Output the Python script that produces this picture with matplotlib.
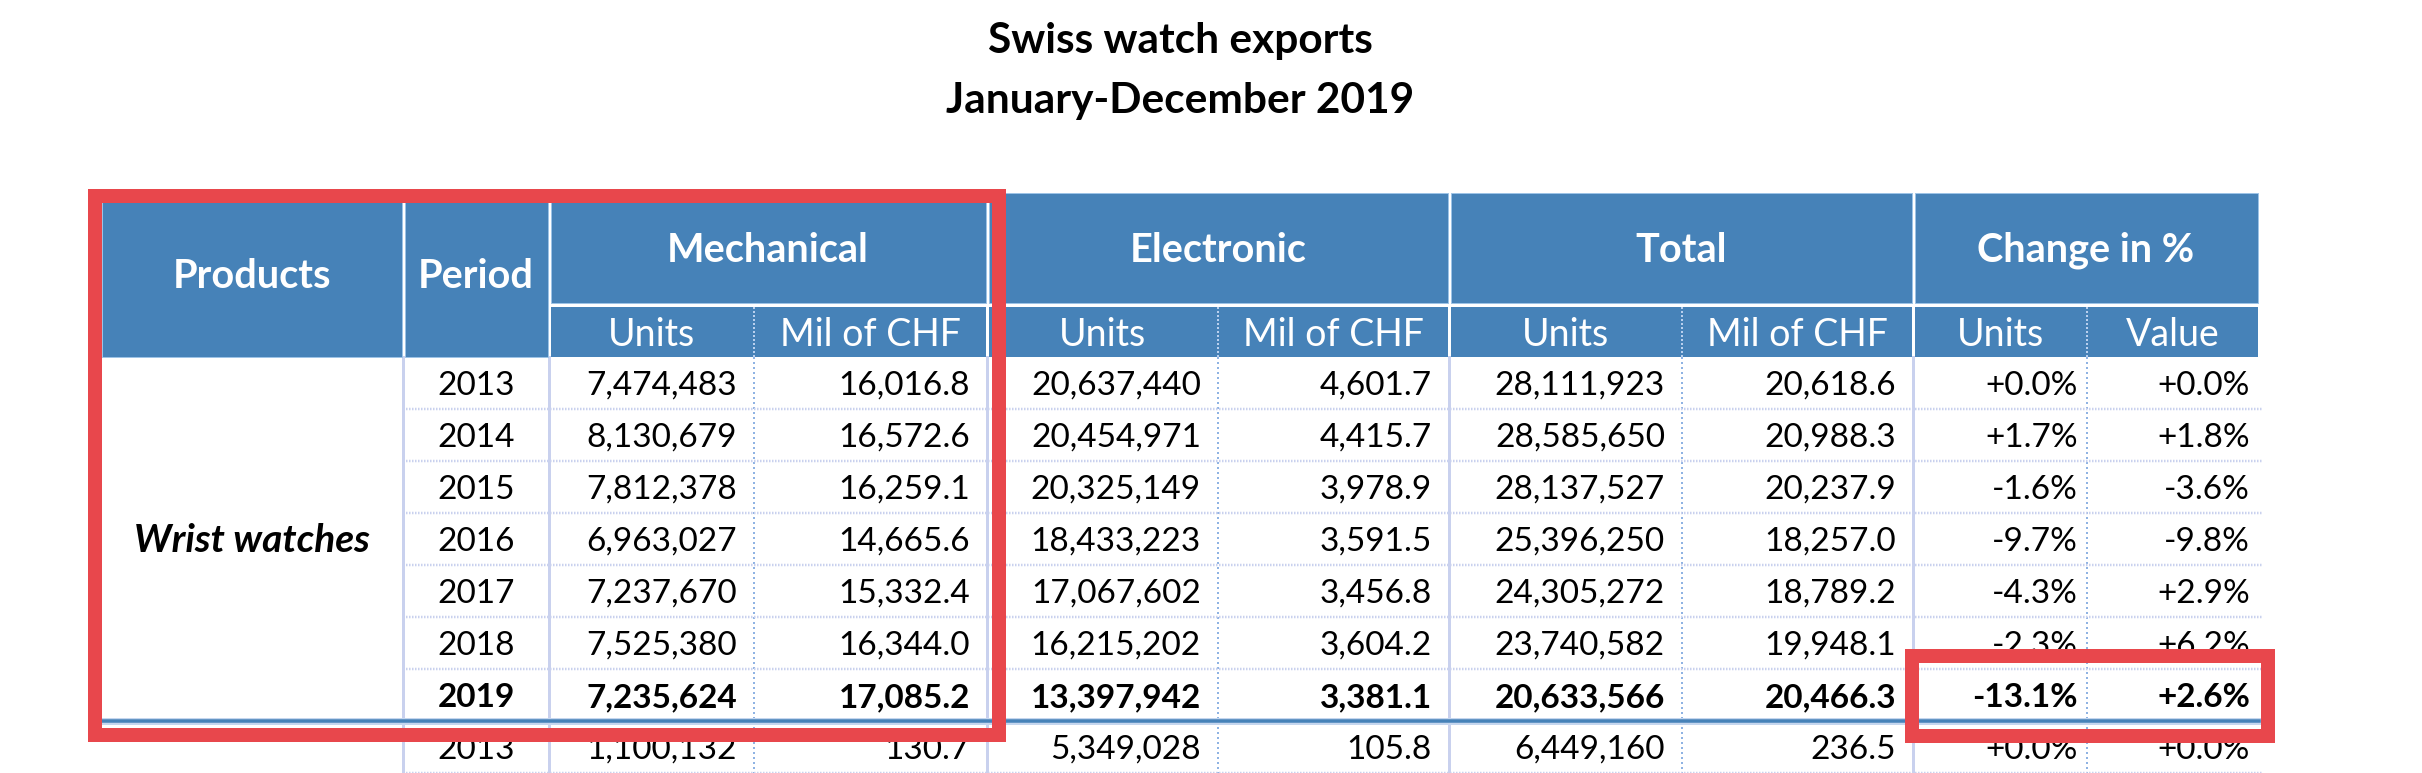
import matplotlib
matplotlib.use("Agg")
import matplotlib.pyplot as plt
from matplotlib.patches import Rectangle

# ---------------- data ----------------
title_lines = ["Swiss watch exports", "January-December 2019"]
group_labels = ["Mechanical", "Electronic", "Total", "Change in %"]
sub_labels = ["Units", "Mil of CHF", "Units", "Mil of CHF", "Units", "Mil of CHF", "Units", "Value"]
product_label = "Wrist watches"

years = [2013, 2014, 2015, 2016, 2017, 2018, 2019]
mech_units = [7474483, 8130679, 7812378, 6963027, 7237670, 7525380, 7235624]
mech_chf = [16016.8, 16572.6, 16259.1, 14665.6, 15332.4, 16344.0, 17085.2]
elec_units = [20637440, 20454971, 20325149, 18433223, 17067602, 16215202, 13397942]
elec_chf = [4601.7, 4415.7, 3978.9, 3591.5, 3456.8, 3604.2, 3381.1]
tot_units = [28111923, 28585650, 28137527, 25396250, 24305272, 23740582, 20633566]
tot_chf = [20618.6, 20988.3, 20237.9, 18257.0, 18789.2, 19948.1, 20466.3]
chg_units = [0.0, 1.7, -1.6, -9.7, -4.3, -2.3, -13.1]
chg_value = [0.0, 1.8, -3.6, -9.8, 2.9, 6.2, 2.6]

# next (partially visible) block
next_row = [2013, 1100132, 130.7, 5349028, 105.8, 6449160, 236.5, 0.0, 0.0]

# ---------------- layout (pixels) ----------------
W, H = 2422, 773
col_edges = [100, 403, 549, 754, 987, 1218, 1449, 1682, 1913, 2087, 2259]
group_edges = [549, 987, 1449, 1913, 2259]
hdr_top, hdr_mid, sub_top, hdr_bot = 193, 303, 307, 357
row_h = 52
blue = "#4682B8"
red = "#E8474C"
lav = "#C9D1EE"
dotblue = "#8FB3E3"
FONT = ["Lato", "DejaVu Sans"]
px = 72 / 100.0  # pixel -> point

fig = plt.figure(figsize=(W / 100, H / 100), dpi=100)
ax = fig.add_axes([0, 0, 1, 1])
ax.set_xlim(0, W)
ax.set_ylim(H, 0)
ax.axis("off")

# title
ax.text(1180, 53, title_lines[0], ha="center", va="baseline", fontsize=30.5,
        fontweight="bold", family=FONT, color="black")
ax.text(1180, 113, title_lines[1], ha="center", va="baseline", fontsize=30.5,
        fontweight="bold", family=FONT, color="black")

# header cells
def hcell(x0, x1, y0, y1):
    ax.add_patch(Rectangle((x0 + 1.5, y0), x1 - x0 - 3, y1 - y0, facecolor=blue,
                           edgecolor="#9DC3E6", linewidth=1 * px, zorder=2))

hcell(col_edges[0], col_edges[1], hdr_top, hdr_bot)
hcell(col_edges[1], col_edges[2], hdr_top, hdr_bot)
for i in range(4):
    hcell(group_edges[i], group_edges[i + 1], hdr_top, hdr_mid)
for i in range(8):
    x0, x1 = col_edges[2 + i], col_edges[3 + i]
    left = 1.5 if i % 2 == 0 else 0
    right = 1.5 if i % 2 == 1 else 0
    ax.add_patch(Rectangle((x0 + left, sub_top), x1 - x0 - left - right,
                           hdr_bot - sub_top, facecolor=blue, edgecolor="none", zorder=2))
# subheader dotted separators
for i in range(4):
    xs = col_edges[3 + 2 * i]
    ax.plot([xs, xs], [sub_top, hdr_bot], color="#B9D0EE", lw=2 * px,
            linestyle=(0, (1, 1)), zorder=3)

hfs_b = 28.5
hfs = 27
hcy = lambda y0, y1: (y0 + y1) / 2 + 13.5
ax.text((col_edges[0] + col_edges[1]) / 2, hcy(hdr_top, hdr_bot), "Products", ha="center",
        va="baseline", fontsize=hfs_b, fontweight="bold", color="white", family=FONT, zorder=4)
ax.text((col_edges[1] + col_edges[2]) / 2, hcy(hdr_top, hdr_bot), "Period", ha="center",
        va="baseline", fontsize=hfs_b, fontweight="bold", color="white", family=FONT, zorder=4)
for i, g in enumerate(group_labels):
    ax.text((group_edges[i] + group_edges[i + 1]) / 2, hcy(hdr_top, hdr_mid), g, ha="center",
            va="baseline", fontsize=hfs_b, fontweight="bold", color="white", family=FONT, zorder=4)
for i, s in enumerate(sub_labels):
    ax.text((col_edges[2 + i] + col_edges[3 + i]) / 2, hcy(sub_top, hdr_bot), s, ha="center",
            va="baseline", fontsize=hfs, color="white", family=FONT, zorder=4)

# data grid
n_rows = len(years) + 1
data_bot = hdr_bot + row_h * n_rows
for xs in [col_edges[1], col_edges[2], col_edges[4], col_edges[6], col_edges[8]]:
    ax.plot([xs, xs], [hdr_bot, data_bot], color=lav, lw=3 * px, zorder=1)
for xs in [col_edges[3], col_edges[5], col_edges[7], col_edges[9]]:
    ax.plot([xs, xs], [hdr_bot, data_bot], color=dotblue, lw=2 * px,
            linestyle=(0, (1, 1.5)), zorder=1)
for r in range(1, n_rows + 1):
    yy = hdr_bot + r * row_h
    if r == len(years):
        continue
    ax.plot([col_edges[1], col_edges[-1] + 3], [yy, yy], color=lav, lw=2.5 * px,
            linestyle=(0, (0.6, 0.6)), zorder=1)

# separator between product groups
ysep = hdr_bot + row_h * len(years)
ax.plot([col_edges[0], col_edges[-1]], [ysep, ysep], color="#C5D6EE", lw=7 * px, zorder=1.5)
ax.plot([col_edges[0], col_edges[-1]], [ysep, ysep], color=blue, lw=3.5 * px, zorder=1.6)

# data text
dfs = 24
def fmt_int(v):
    return f"{v:,}"
def fmt_f(v):
    return f"{v:,.1f}"
def fmt_p(v):
    return f"{v:+.1f}%"

def draw_row(r, vals, bold):
    yb = hdr_bot + r * row_h + row_h / 2 + 12
    w = "bold" if bold else "normal"
    ax.text((col_edges[1] + col_edges[2]) / 2, yb, str(vals[0]), ha="center", va="baseline",
            fontsize=dfs, fontweight=w, family=FONT, zorder=2)
    strs = [fmt_int(vals[1]), fmt_f(vals[2]), fmt_int(vals[3]), fmt_f(vals[4]),
            fmt_int(vals[5]), fmt_f(vals[6]), fmt_p(vals[7]), fmt_p(vals[8])]
    for i, s in enumerate(strs):
        pad = 9 if i >= 6 else 17
        ax.text(col_edges[3 + i] - pad, yb, s, ha="right", va="baseline",
                fontsize=dfs, fontweight=w, family=FONT, zorder=2)

for r in range(len(years)):
    draw_row(r, [years[r], mech_units[r], mech_chf[r], elec_units[r], elec_chf[r],
                 tot_units[r], tot_chf[r], chg_units[r], chg_value[r]], r == len(years) - 1)
draw_row(len(years), next_row, False)

ax.text((col_edges[0] + col_edges[1]) / 2, hdr_bot + row_h * len(years) / 2 + 13.5, product_label,
        ha="center", va="baseline", fontsize=28, fontweight="bold", style="italic",
        family=FONT, zorder=2)

# red highlight boxes
ax.add_patch(Rectangle((95, 196), 999 - 95, 735 - 196, fill=False, edgecolor=red,
                       linewidth=14 * px, zorder=10, joinstyle="miter"))
ax.add_patch(Rectangle((1911.5, 655.5), 2268 - 1911.5, 736 - 655.5, fill=False, edgecolor=red,
                       linewidth=14 * px, zorder=10, joinstyle="miter"))

fig.savefig("out.png", dpi=100, facecolor="white")
